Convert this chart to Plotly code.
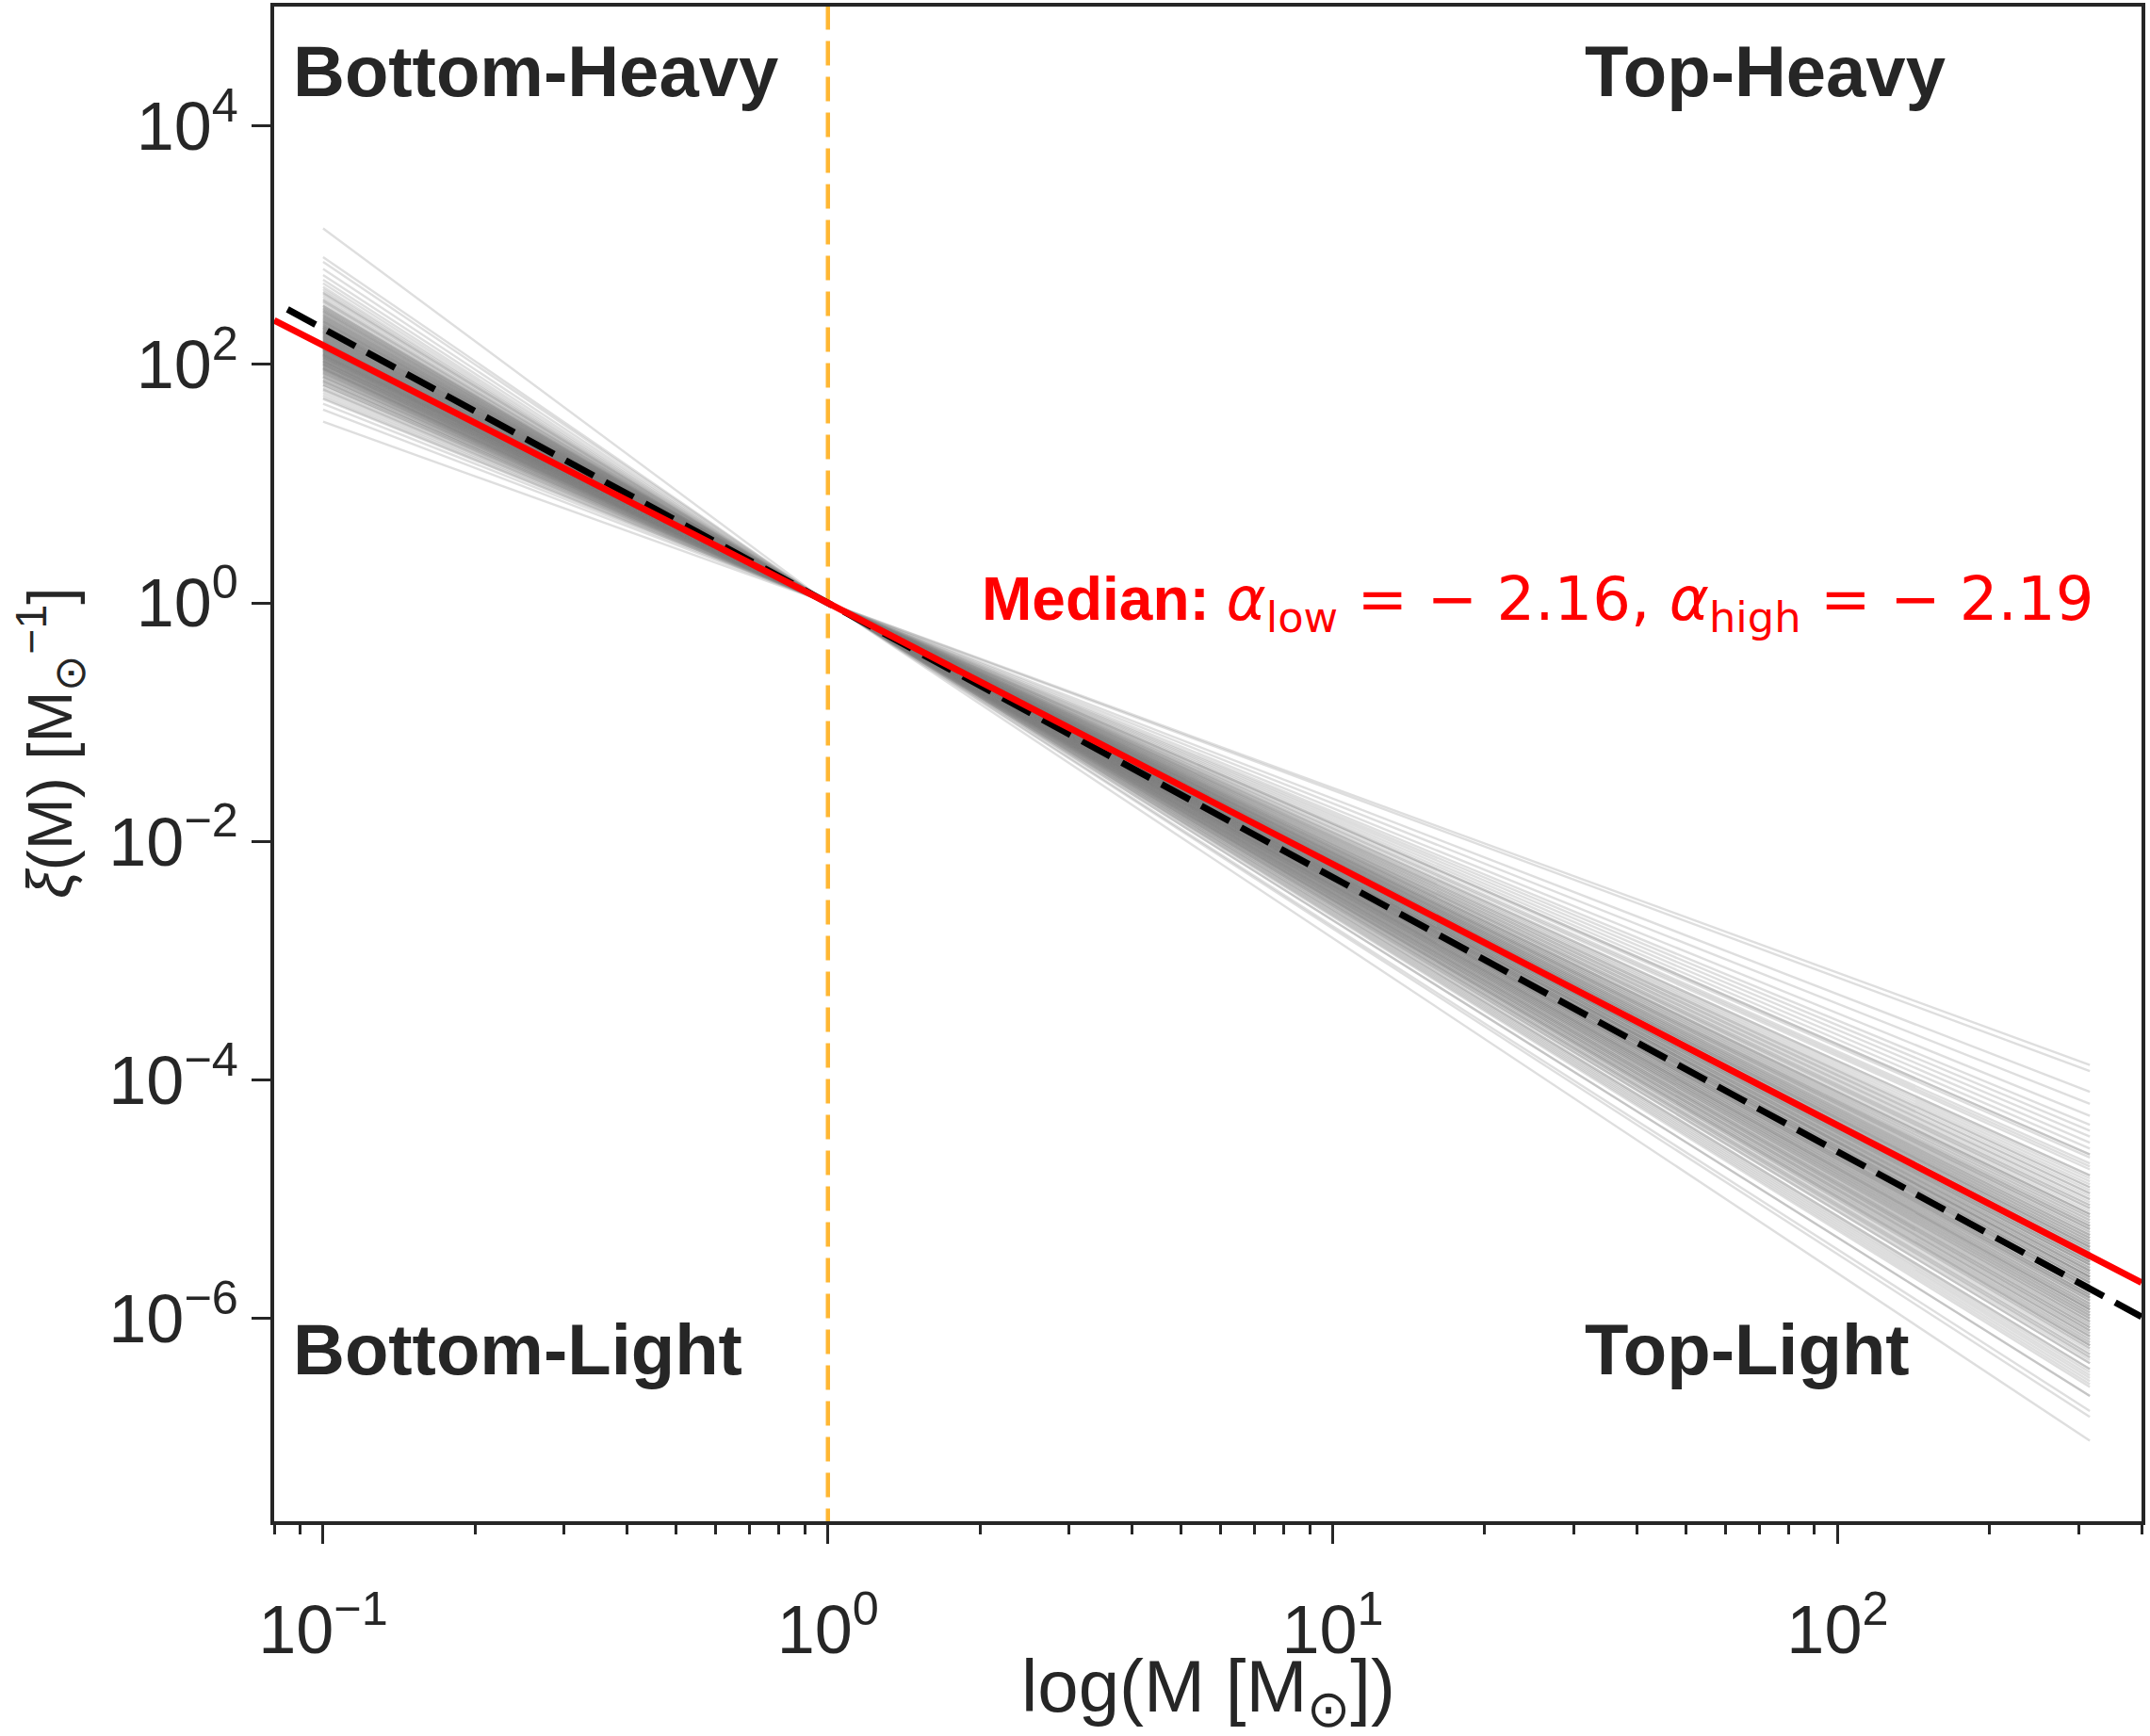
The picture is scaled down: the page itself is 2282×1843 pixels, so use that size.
import plotly.graph_objects as go
import math

# ---------------- data ----------------
# posterior samples of the broken power-law slopes (low / high mass side)
alpha_low_samples = [
    -1.52, -1.62, -1.67, -1.71, -1.74, -1.76, -1.78, -1.80, -1.82, -1.83,
    -1.85, -1.86, -1.87, -1.89, -1.90, -1.91, -1.92, -1.93, -1.94, -1.95,
    -1.96, -1.96, -1.97, -1.98, -1.99, -2.00, -2.00, -2.01, -2.02, -2.03,
    -2.03, -2.04, -2.05, -2.05, -2.06, -2.07, -2.07, -2.08, -2.09, -2.09,
    -2.10, -2.11, -2.11, -2.12, -2.13, -2.13, -2.14, -2.15, -2.15, -2.16,
    -2.16, -2.17, -2.18, -2.19, -2.20, -2.21, -2.22, -2.23, -2.24, -2.25,
    -2.26, -2.27, -2.28, -2.29, -2.30, -2.31, -2.32, -2.33, -2.34, -2.35,
    -2.36, -2.37, -2.38, -2.39, -2.40, -2.41, -2.42, -2.43, -2.44, -2.45,
    -2.46, -2.47, -2.48, -2.49, -2.50, -2.52, -2.54, -2.55, -2.57, -2.59,
    -2.61, -2.63, -2.65, -2.68, -2.71, -2.75, -2.80, -2.86, -2.90, -3.14,
    -1.72, -1.79, -1.83, -1.85, -1.87, -1.89, -1.90, -1.92, -1.93, -1.94,
    -1.95, -1.96, -1.97, -1.97, -1.98, -1.99, -2.00, -2.00, -2.01, -2.02,
    -2.02, -2.03, -2.03, -2.04, -2.05, -2.05, -2.06, -2.06, -2.07, -2.07,
    -2.08, -2.08, -2.08, -2.09, -2.09, -2.10, -2.10, -2.11, -2.11, -2.12,
    -2.12, -2.13, -2.13, -2.13, -2.14, -2.14, -2.15, -2.15, -2.16, -2.16,
    -2.16, -2.17, -2.17, -2.18, -2.18, -2.19, -2.19, -2.19, -2.20, -2.20,
    -2.21, -2.21, -2.22, -2.22, -2.23, -2.23, -2.24, -2.24, -2.25, -2.25,
    -2.26, -2.26, -2.27, -2.27, -2.28, -2.28, -2.29, -2.30, -2.30, -2.31,
    -2.31, -2.32, -2.33, -2.33, -2.34, -2.35, -2.36, -2.36, -2.37, -2.38,
    -2.39, -2.40, -2.41, -2.42, -2.44, -2.45, -2.47, -2.49, -2.53, -2.60,
]
alpha_high_samples = [
    -1.55, -1.57, -1.64, -1.68, -1.72, -1.75, -1.77, -1.79, -1.81, -1.83,
    -1.85, -1.86, -1.88, -1.89, -1.90, -1.92, -1.93, -1.94, -1.95, -1.96,
    -1.97, -1.98, -1.99, -2.00, -2.01, -2.02, -2.03, -2.04, -2.05, -2.05,
    -2.06, -2.07, -2.08, -2.09, -2.09, -2.10, -2.11, -2.12, -2.12, -2.13,
    -2.14, -2.14, -2.15, -2.16, -2.16, -2.17, -2.17, -2.18, -2.18, -2.19,
    -2.19, -2.20, -2.20, -2.21, -2.22, -2.22, -2.23, -2.24, -2.24, -2.25,
    -2.26, -2.26, -2.27, -2.28, -2.28, -2.29, -2.30, -2.30, -2.31, -2.32,
    -2.33, -2.33, -2.34, -2.35, -2.36, -2.37, -2.37, -2.38, -2.39, -2.40,
    -2.41, -2.42, -2.43, -2.44, -2.45, -2.46, -2.47, -2.48, -2.49, -2.50,
    -2.52, -2.53, -2.55, -2.57, -2.59, -2.61, -2.63, -2.66, -2.71, -2.81,
    -1.85, -1.92, -1.96, -1.98, -2.00, -2.02, -2.03, -2.05, -2.06, -2.07,
    -2.08, -2.09, -2.10, -2.10, -2.11, -2.12, -2.13, -2.13, -2.14, -2.15,
    -2.15, -2.16, -2.16, -2.17, -2.18, -2.18, -2.19, -2.19, -2.20, -2.20,
    -2.21, -2.21, -2.21, -2.22, -2.22, -2.23, -2.23, -2.24, -2.24, -2.25,
    -2.25, -2.26, -2.26, -2.26, -2.27, -2.27, -2.28, -2.28, -2.29, -2.29,
    -2.29, -2.30, -2.30, -2.31, -2.31, -2.32, -2.32, -2.32, -2.33, -2.33,
    -2.34, -2.34, -2.35, -2.35, -2.36, -2.36, -2.37, -2.37, -2.38, -2.38,
    -2.39, -2.39, -2.40, -2.40, -2.41, -2.41, -2.42, -2.43, -2.43, -2.44,
    -2.44, -2.45, -2.46, -2.46, -2.47, -2.48, -2.49, -2.49, -2.50, -2.51,
    -2.52, -2.53, -2.54, -2.55, -2.57, -2.58, -2.60, -2.62, -2.66, -2.73,
]
median_alpha_low = -2.16
median_alpha_high = -2.19
reference_alpha = -2.3          # black dashed reference slope
pivot_mass = 1.0                # break mass (orange dashed line)

sample_mass_range = [0.1, 316.0]
median_mass_range = [0.08, 400.0]
reference_mass_range = [0.085, 400.0]

x_range = [0.08, 400.0]
y_range = [2e-8, 1e5]

x_tick_vals = [0.1, 1, 10, 100]
x_tick_text = ["10<sup>\u22121</sup>", "10<sup>0</sup>", "10<sup>1</sup>", "10<sup>2</sup>"]
y_tick_vals = [1e-6, 1e-4, 1e-2, 1, 1e2, 1e4]
y_tick_text = ["10<sup>\u22126</sup>", "10<sup>\u22124</sup>", "10<sup>\u22122</sup>",
               "10<sup>0</sup>", "10<sup>2</sup>", "10<sup>4</sup>"]

region_labels = ["Bottom-Heavy", "Top-Heavy", "Bottom-Light", "Top-Light"]
x_title = "log(M [M<sub>\u2299</sub>])"
y_title = "<i>\u03be</i>(M) [M<sub>\u2299</sub><sup>\u22121</sup>]"

FONT = "Liberation Sans, Arial, sans-serif"
INK = "#262626"


def broken_power_law(m_lo, m_hi, a_lo, a_hi):
    xs = [m_lo, pivot_mass, m_hi]
    ys = [(m_lo / pivot_mass) ** a_lo, 1.0, (m_hi / pivot_mass) ** a_hi]
    return xs, ys


fig = go.Figure()

# orange dashed break line
fig.add_trace(go.Scatter(
    x=[pivot_mass, pivot_mass], y=[y_range[0] / 10, y_range[1] * 10], mode="lines",
    line=dict(color="rgba(255,165,0,0.8)", width=4.5, dash="26px,12px"),
    hoverinfo="skip", showlegend=False))

# grey samples
for a_lo, a_hi in zip(alpha_low_samples, alpha_high_samples):
    xs, ys = broken_power_law(sample_mass_range[0], sample_mass_range[1], a_lo, a_hi)
    fig.add_trace(go.Scatter(
        x=xs, y=ys, mode="lines",
        line=dict(color="rgba(128,128,128,0.26)", width=2.4),
        hoverinfo="skip", showlegend=False))

# black dashed reference
xs, ys = broken_power_law(reference_mass_range[0], reference_mass_range[1],
                          reference_alpha, reference_alpha)
fig.add_trace(go.Scatter(
    x=xs, y=ys, mode="lines",
    line=dict(color="black", width=7, dash="34px,14px"),
    hoverinfo="skip", showlegend=False))

# red median
xs, ys = broken_power_law(median_mass_range[0], median_mass_range[1],
                          median_alpha_low, median_alpha_high)
fig.add_trace(go.Scatter(
    x=xs, y=ys, mode="lines",
    line=dict(color="#ff0000", width=7),
    hoverinfo="skip", showlegend=False))

label_font = dict(family=FONT, size=76, color=INK)
lx_left, lx_right = -1.064, 1.495
ly_top, ly_bottom = 4.46, -6.26
for text, x, y in zip(region_labels,
                      [lx_left, lx_right, lx_left, lx_right],
                      [ly_top, ly_top, ly_bottom, ly_bottom]):
    fig.add_annotation(x=x, y=y, xref="x", yref="y", text="<b>%s</b>" % text,
                       showarrow=False, xanchor="left", yanchor="middle", font=label_font)

median_text = ("<b>Median:</b> <span style='font-family:DejaVu Sans'><i>\u03b1</i><sub>low</sub> = \u2212 %.2f, "
               "<i>\u03b1</i><sub>high</sub> = \u2212 %.2f</span>"
               % (abs(median_alpha_low), abs(median_alpha_high)))
fig.add_annotation(x=math.log10(2.0), y=0.0, xref="x", yref="y", text=median_text,
                   showarrow=False, xanchor="left", yanchor="middle",
                   font=dict(family=FONT, size=64, color="#ff0000"))

# axis titles as annotations for exact placement
fig.add_annotation(x=0.5, y=-0.0715, xref="paper", yref="paper", text=x_title,
                   showarrow=False, xanchor="center", yanchor="top", yshift=-14,
                   font=dict(family=FONT, size=78, color=INK))
fig.add_annotation(x=-0.1195, y=0.514, xref="paper", yref="paper", text=y_title,
                   showarrow=False, xanchor="center", yanchor="middle", textangle=-90,
                   font=dict(family=FONT, size=66, color=INK))

axis_common = dict(
    type="log", showgrid=False, zeroline=False,
    showline=True, linecolor=INK, linewidth=3.5, mirror=True,
    ticks="outside", ticklen=20, tickwidth=3, tickcolor=INK,
    tickfont=dict(family=FONT, size=72, color=INK),
)

fig.update_xaxes(
    **axis_common,
    range=[math.log10(x_range[0]), math.log10(x_range[1])],
    tickvals=x_tick_vals, ticktext=x_tick_text,
    ticklabelstandoff=30,
    minor=dict(ticks="outside", ticklen=10, tickwidth=2.5, tickcolor=INK, dtick="D1", showgrid=False),
)
fig.update_yaxes(
    **axis_common,
    range=[math.log10(y_range[0]), math.log10(y_range[1])],
    tickvals=y_tick_vals, ticktext=y_tick_text,
)

fig.update_layout(
    width=2282, height=1843,
    margin=dict(l=291, r=9, t=7, b=228, autoexpand=False),
    paper_bgcolor="white", plot_bgcolor="white",
    showlegend=False,
)

fig.write_html("out.html")
